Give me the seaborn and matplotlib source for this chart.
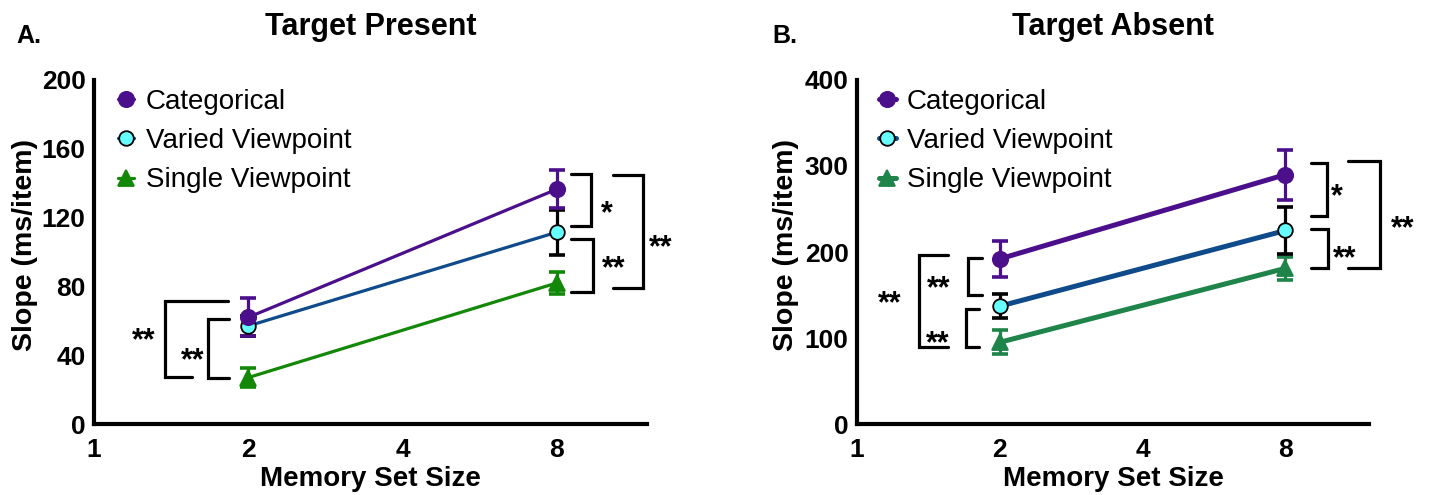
import numpy as np
import pandas as pd
import matplotlib
matplotlib.use("Agg")
import matplotlib.pyplot as plt
import seaborn as sns
from matplotlib.ticker import FixedLocator, NullLocator

# ---- data -------------------------------------------------------------
set_sizes = [2, 8]
conditions = ["Categorical", "Varied Viewpoint", "Single Viewpoint"]

# Target present: mean slope and SEM (ms/item)
present_categorical = [62, 136.5]
present_categorical_sem = [11, 11]
present_varied = [57, 111.5]
present_varied_sem = [6, 13]
present_single = [27, 82]
present_single_sem = [5.5, 6.5]

# Target absent: mean slope and SEM (ms/item)
absent_categorical = [192, 290]
absent_categorical_sem = [21, 29]
absent_varied = [137, 225]
absent_varied_sem = [14, 27]
absent_single = [95, 181]
absent_single_sem = [14, 13]

x_ticks = [1, 2, 4, 8]
present_y_ticks = [0, 40, 80, 120, 160, 200]
absent_y_ticks = [0, 100, 200, 300, 400]


def long_form(panel, series):
    rows = []
    for cond, (means, sems) in series.items():
        for s, m, e in zip(set_sizes, means, sems):
            rows.append({"panel": panel, "condition": cond, "set_size": s,
                         "slope": m, "sem": e})
    return rows


df = pd.DataFrame(
    long_form("present", {
        "Categorical": (present_categorical, present_categorical_sem),
        "Varied Viewpoint": (present_varied, present_varied_sem),
        "Single Viewpoint": (present_single, present_single_sem),
    }) + long_form("absent", {
        "Categorical": (absent_categorical, absent_categorical_sem),
        "Varied Viewpoint": (absent_varied, absent_varied_sem),
        "Single Viewpoint": (absent_single, absent_single_sem),
    })
)

# ---- style ------------------------------------------------------------
sns.set_style("white")
plt.rcParams["font.family"] = ["Liberation Sans", "DejaVu Sans"]
plt.rcParams["text.color"] = "black"
plt.rcParams["axes.labelcolor"] = "black"
plt.rcParams["xtick.color"] = "black"
plt.rcParams["ytick.color"] = "black"

PURPLE = "#4B0F8C"
BLUE = "#0F4A8A"
CYAN = "#66FFFF"
GREEN_A = "#138808"
GREEN_B = "#1E8449"

def series_styles(green):
    return {
        "Categorical": dict(line=PURPLE, marker="o", mfc=PURPLE, mec=PURPLE,
                            ecolor=PURPLE, ms=11),
        "Varied Viewpoint": dict(line=BLUE, marker="o", mfc=CYAN, mec="black",
                                 ecolor="black", ms=10.5),
        "Single Viewpoint": dict(line=green, marker="^", mfc=green, mec=green,
                                 ecolor=green, ms=11),
    }

fig = plt.figure(figsize=(14.29, 4.95), dpi=100)
ax_a = fig.add_axes([94 / 1429, 71 / 495, 553 / 1429, 344 / 495])
ax_b = fig.add_axes([857 / 1429, 71 / 495, 512 / 1429, 344 / 495])

panels = [
    (ax_a, "present", "Target Present", present_y_ticks, GREEN_A, 2.3, -0.101),
    (ax_b, "absent", "Target Absent", absent_y_ticks, GREEN_B, 3.6, -0.113),
]

draw_order = ["Single Viewpoint", "Varied Viewpoint", "Categorical"]

for ax, panel, title, yticks, green, lw, ylab_x in panels:
    styles = series_styles(green)
    for i, cond in enumerate(draw_order):
        st = styles[cond]
        sub = df[(df.panel == panel) & (df.condition == cond)]
        ax.errorbar(sub.set_size, sub.slope, yerr=sub["sem"], fmt="none",
                    ecolor=st["ecolor"], elinewidth=2.3, capsize=5.5,
                    capthick=2.6, zorder=2 + i * 0.1, label="_nolegend_")
        sns.lineplot(data=sub, x="set_size", y="slope", ax=ax,
                     color=st["line"], linewidth=lw, marker=st["marker"],
                     markersize=st["ms"], markerfacecolor=st["mfc"],
                     markeredgecolor=st["mec"], markeredgewidth=1.3,
                     errorbar=None, label=cond, legend=False,
                     zorder=3 + i * 0.1)

    ax.set_xscale("log", base=2)
    ax.set_xlim(1, 12)
    ax.set_ylim(yticks[0], yticks[-1])
    ax.xaxis.set_major_locator(FixedLocator(x_ticks))
    ax.xaxis.set_minor_locator(NullLocator())
    ax.set_xticklabels([str(t) for t in x_ticks])
    ax.set_yticks(yticks)
    ax.set_yticklabels([str(t) for t in yticks])
    ax.tick_params(axis="both", labelsize=19, width=2.6, direction="out",
                   colors="black")
    ax.tick_params(axis="x", length=6, pad=4)
    ax.tick_params(axis="y", length=4, pad=2)
    for lbl in ax.get_xticklabels() + ax.get_yticklabels():
        lbl.set_fontweight("bold")

    sns.despine(ax=ax)
    for side in ("left", "bottom"):
        ax.spines[side].set_linewidth(3)
        ax.spines[side].set_color("black")

    ax.set_xlabel("Memory Set Size", fontsize=20, fontweight="bold")
    ax.xaxis.set_label_coords(0.5, -0.122)
    ax.set_ylabel("Slope (ms/item)", fontsize=20.5, fontweight="bold")
    ax.yaxis.set_label_coords(ylab_x, 0.52)
    ax.set_title(title, fontsize=22, fontweight="bold", y=1.131, pad=0)

    handles, labels = ax.get_legend_handles_labels()
    lookup = dict(zip(labels, handles))
    ax.legend([lookup[c] for c in conditions], conditions, loc="upper left",
              bbox_to_anchor=(0.043, 0.975), borderpad=0, borderaxespad=0,
              frameon=False, fontsize=20, handlelength=0.6,
              handletextpad=0.4, labelspacing=0.48)

# ---- significance brackets -------------------------------------------
STAR_FS = 22

def bracket(ax, x_top_end, x_bot_end, x_vert, y_top, y_bot, text, tx, ty):
    tr = ax.get_yaxis_transform()
    ax.plot([x_top_end, x_vert, x_vert, x_bot_end], [y_top, y_top, y_bot, y_bot],
            color="black", lw=2.3, transform=tr, clip_on=False,
            solid_joinstyle="miter", zorder=5)
    ax.annotate(text, xy=(tx, ty), xycoords=tr, xytext=(0, -0.57 * STAR_FS),
                textcoords="offset points", ha="center", va="baseline",
                fontsize=STAR_FS, fontweight="bold", annotation_clip=False)

# Target present
bracket(ax_a, 0.242, 0.177, 0.128, 71.5, 27.3, "**", 0.090, 53.5)
bracket(ax_a, 0.244, 0.244, 0.206, 61, 26.7, "**", 0.179, 41.9)
bracket(ax_a, 0.863, 0.863, 0.899, 145.3, 115.1, "*", 0.928, 127.3)
bracket(ax_a, 0.863, 0.863, 0.902, 107.6, 76.7, "**", 0.940, 95.3)
bracket(ax_a, 0.939, 0.939, 0.993, 144.8, 79, "**", 1.024, 107.6)

# Target absent
bracket(ax_b, 0.178, 0.178, 0.121, 196.5, 89.5, "**", 0.064, 150)
bracket(ax_b, 0.244, 0.244, 0.217, 193, 150, "**", 0.160, 167.4)
bracket(ax_b, 0.238, 0.238, 0.213, 133.7, 89.5, "**", 0.158, 103.5)
bracket(ax_b, 0.887, 0.887, 0.918, 303.5, 241.9, "*", 0.9375, 274.4)
bracket(ax_b, 0.887, 0.887, 0.920, 226.7, 181.4, "**", 0.953, 202.3)
bracket(ax_b, 0.959, 0.959, 1.021, 305.8, 181.4, "**", 1.066, 237.2)

# panel letters
fig.text(16 / 1429, 1 - 43 / 495, "A.", fontsize=18, fontweight="bold",
         va="baseline")
fig.text(772 / 1429, 1 - 43 / 495, "B.", fontsize=18, fontweight="bold",
         va="baseline")

fig.savefig("out.png", dpi=100)
